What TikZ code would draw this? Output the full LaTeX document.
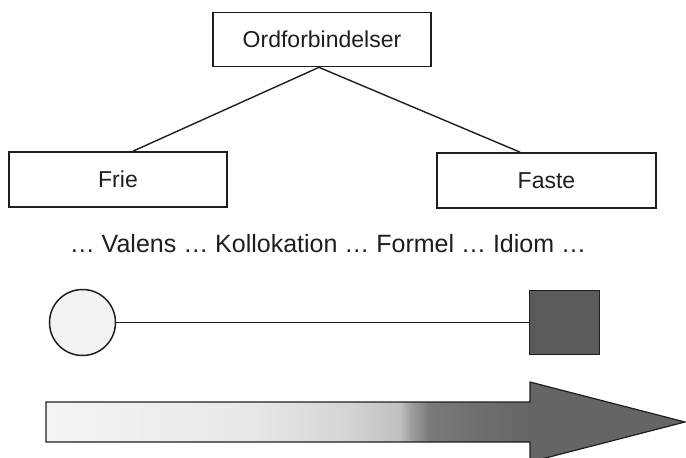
\documentclass[tikz,border=0pt]{standalone}
\usepackage{fontspec}
\setmainfont{Liberation Sans}
\usetikzlibrary{calc}
\definecolor{sA}{HTML}{F4F4F4}
\definecolor{sB}{HTML}{E8E8E8}
\definecolor{sC}{HTML}{D4D4D4}
\definecolor{sD}{HTML}{C0C0C0}
\definecolor{sE}{HTML}{A0A0A0}
\definecolor{sF}{HTML}{7A7A7A}
\definecolor{sG}{HTML}{6E6E6E}
\definecolor{sH}{HTML}{656565}
\definecolor{circfill}{HTML}{F2F2F2}
\definecolor{sqfill}{HTML}{5A5A5A}
\definecolor{ink}{HTML}{1E1E1E}
\pgfdeclarehorizontalshading{arrowshade}{100bp}{color(0bp)=(sA); color(25bp)=(sA); color(41bp)=(sB); color(48.8bp)=(sC); color(52.7bp)=(sD); color(53.5bp)=(sE); color(55bp)=(sF); color(59bp)=(sG); color(62.9bp)=(sH); color(75bp)=(sH); color(100bp)=(sH)}
\tikzset{
  box/.style={draw=ink, line width=1.7pt, minimum width=218pt, minimum height=54pt, inner sep=0pt, font=\fontsize{23}{27}\selectfont, text=ink},
  conn/.style={draw=ink, line width=1.4pt},
  lbl/.style={font=\fontsize{25}{29}\selectfont, text=ink, inner sep=0pt}
}
\begin{document}
\begin{tikzpicture}[x=1pt,y=-1pt]
\useasboundingbox (0,0) rectangle (686,458);
\node[box] (top) at (322,39.5) {Ordforbindelser};
\node[box, minimum height=55pt] (frie) at (118,179.5) {Frie};
\node[box, minimum width=219pt, minimum height=55pt] (faste) at (546.5,180.5) {Faste};
\draw[conn] ([xshift=-3pt]top.south) -- ([xshift=15pt]frie.north);
\draw[conn] ([xshift=-3pt]top.south) -- ([xshift=-26.5pt]faste.north);
\node[lbl, anchor=base] (txt) at (328,252) {… Valens … Kollokation … Formel … Idiom …};
\node[draw=ink, line width=1.5pt, fill=circfill, circle, minimum size=66pt, inner sep=0pt] (circ) at (82.5,322.5) {};
\node[draw=ink, line width=1.5pt, fill=sqfill, rectangle, minimum width=70pt, minimum height=64pt, inner sep=0pt] (sq) at (564.5,322.5) {};
\draw[conn] (circ.east) -- (sq.west);
\path[draw=ink, line width=1.2pt, shading=arrowshade, line join=miter]
  (46,402) -- (530,402) -- (530,382) -- (685,422) -- (530,462) -- (530,442) -- (46,442) -- cycle;
\end{tikzpicture}
\end{document}
